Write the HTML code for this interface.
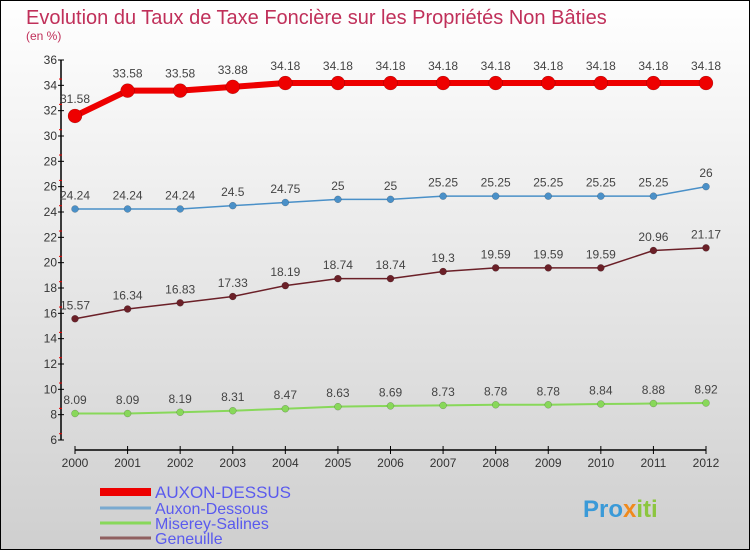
<!DOCTYPE html>
<html><head><meta charset="utf-8"><style>
body{margin:0}
#c{width:750px;height:550px;position:relative;overflow:hidden;font-family:"Liberation Sans",sans-serif}
</style></head><body>
<div id="c">
<svg id="s" width="750" height="550" xmlns="http://www.w3.org/2000/svg">
<defs><linearGradient id="bg" x1="0" y1="0" x2="0" y2="1"><stop offset="0" stop-color="#ffffff"/><stop offset="1" stop-color="#cfcfcf"/></linearGradient></defs>
<rect x="0.5" y="0.5" width="749" height="549" fill="url(#bg)" stroke="#000"/>
<text x="26" y="24" font-size="20" fill="#c0305a">Evolution du Taux de Taxe Foncière sur les Propriétés Non Bâties</text>
<text x="26" y="40" font-size="12" fill="#c0305a">(en %)</text>
<g id="axes"></g><g id="series"></g><g id="legend"></g>
<text x="583" y="517" font-size="24" font-weight="bold" fill="#3a9ad8">Pro<tspan fill="#f08a1c">x</tspan><tspan fill="#8cc63f">iti</tspan></text>
</svg></div>
<script>
const years=[2000,2001,2002,2003,2004,2005,2006,2007,2008,2009,2010,2011,2012];
const auxonDessus=[31.58,33.58,33.58,33.88,34.18,34.18,34.18,34.18,34.18,34.18,34.18,34.18,34.18];
const auxonDessous=[24.24,24.24,24.24,24.5,24.75,25,25,25.25,25.25,25.25,25.25,25.25,26];
const geneuille=[15.57,16.34,16.83,17.33,18.19,18.74,18.74,19.3,19.59,19.59,19.59,20.96,21.17];
const miserey=[8.09,8.09,8.19,8.31,8.47,8.63,8.69,8.73,8.78,8.78,8.84,8.88,8.92];
const yTicks=[6,8,10,12,14,16,18,20,22,24,26,28,30,32,34,36];
const NS="http://www.w3.org/2000/svg";
function X(i){return 75+i*(706-75)/(years.length-1);}
function Y(v){return 440-(v-6)*(380/30);}
function mk(t,a,p){const e=document.createElementNS(NS,t);for(const k in a)e.setAttribute(k,a[k]);p.appendChild(e);return e;}
const ax=document.getElementById('axes');
let l=mk('line',{x1:61,y1:60,x2:61,y2:440,stroke:'#000','stroke-width':1.5},ax);


l=mk('line',{x1:75,y1:450,x2:706,y2:450,stroke:'#000','stroke-width':1.5},ax);


yTicks.forEach(v=>{const y=Y(v);mk('line',{x1:58,y1:y,x2:64,y2:y,stroke:'#000'},ax);
if(v<36)mk('line',{x1:59,y1:y-6.3,x2:62,y2:y-6.3,stroke:'#e00'},ax);
const t=mk('text',{x:57,y:y+4,'font-size':12,'text-anchor':'end',fill:'#333'},ax);t.textContent=v;

});
years.forEach((yr,i)=>{const x=X(i);mk('line',{x1:x,y1:446,x2:x,y2:454,stroke:'#000'},ax);
const t=mk('text',{x:x,y:467,'font-size':12,'text-anchor':'middle',fill:'#333'},ax);t.textContent=yr;

});
const sg=document.getElementById('series');
function series(vals,color,w,r,name){const g=mk('g',{},sg);


mk('polyline',{points:vals.map((v,i)=>X(i)+','+Y(v)).join(' '),fill:'none',stroke:color,'stroke-width':w,'stroke-linejoin':'round'},g);
vals.forEach((v,i)=>{const c=mk('circle',{cx:X(i),cy:Y(v),r:r,fill:color,stroke:'rgba(0,0,0,0.3)','stroke-width':0.5},g);


const t=mk('text',{x:X(i),y:Y(v)-(r+6),'font-size':12,'text-anchor':'middle',fill:'#444'},g);t.textContent=v;

});}
series(miserey,'#88d85a',2,3.5,'series-miserey-salines');
series(geneuille,'#6b2028',1.5,3.5,'series-geneuille');
series(auxonDessous,'#4a90c8',1.5,3.5,'series-auxon-dessous');
series(auxonDessus,'#ee0000',6,7,'series-auxon-dessus');
const lg=document.getElementById('legend');
[['AUXON-DESSUS','#ee0000',8,492,17],['Auxon-Dessous','#7aaad0',3,508,16],['Miserey-Salines','#88d85a',3,523,16],['Geneuille','#906060',3,538,16]].forEach(d=>{
const g=mk('g',{},lg);


mk('line',{x1:100,y1:d[3],x2:151,y2:d[3],stroke:d[1],'stroke-width':d[2]},g);
const t=mk('text',{x:155,y:d[3]+6,'font-size':d[4],fill:'#5a5aee'},g);t.textContent=d[0];});
</script></body></html>
